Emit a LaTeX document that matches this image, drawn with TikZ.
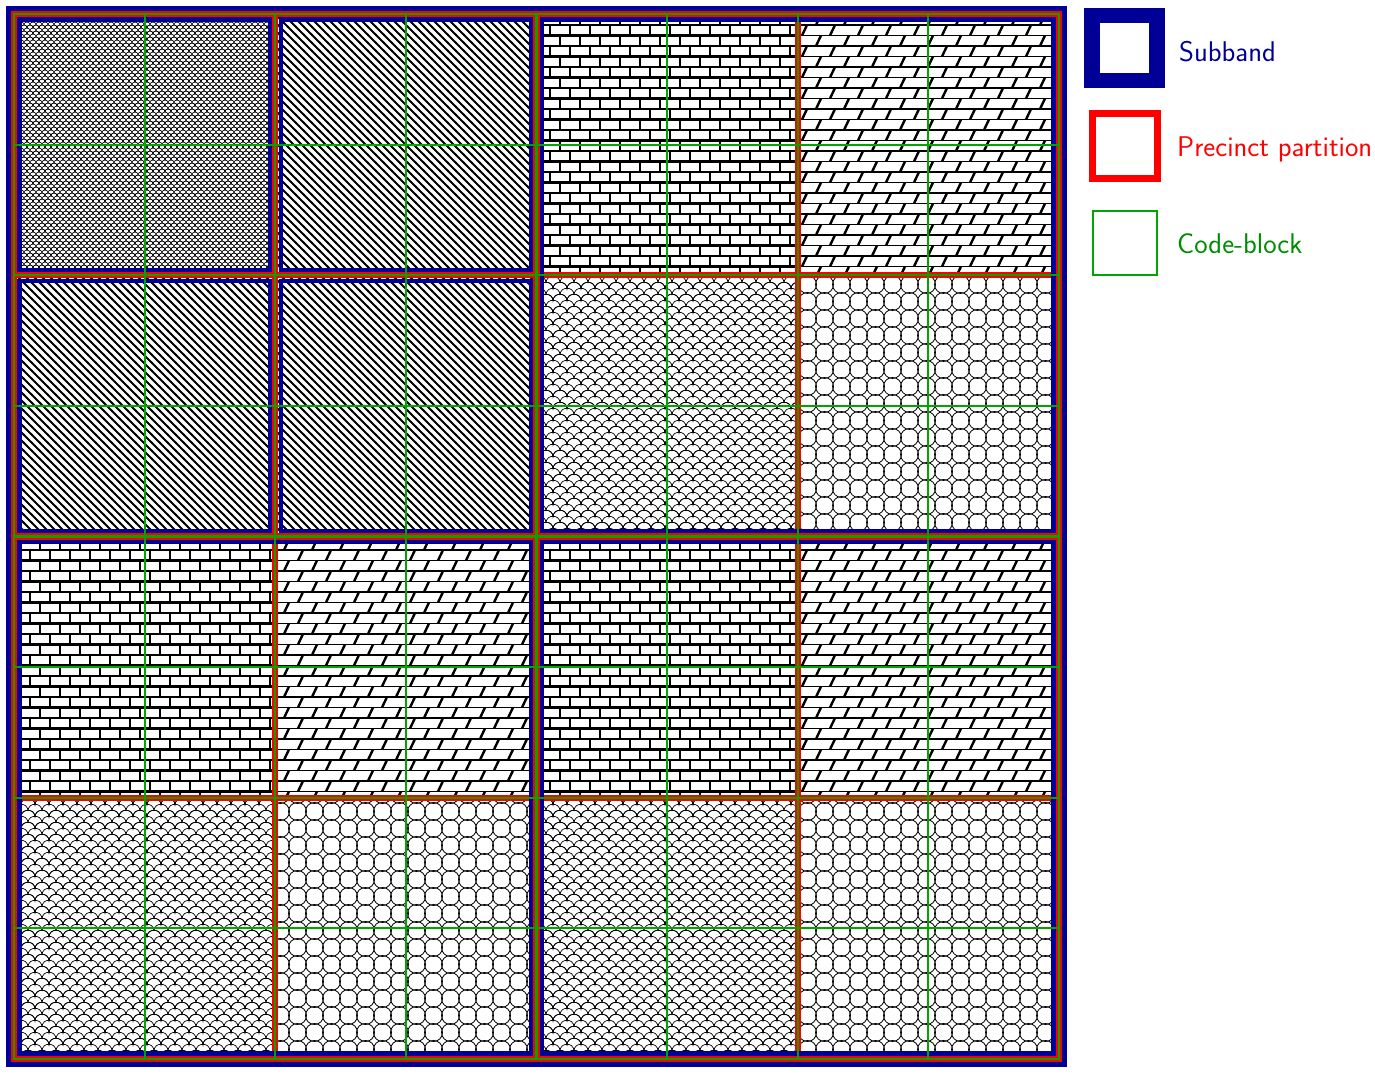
\documentclass[tikz,border=0pt]{standalone}
\usetikzlibrary{patterns}

\definecolor{subbandblue}{RGB}{0,0,150}
\definecolor{precinctred}{RGB}{255,0,0}
\definecolor{blockgreen}{RGB}{0,165,0}

% fill patterns of the precincts
\pgfdeclarepatternformonly{llmesh}{\pgfpoint{-4pt}{-1pt}}{\pgfpoint{10pt}{7pt}}{\pgfpoint{6pt}{6pt}}{
  \pgfsetlinewidth{0.6pt}
  \pgfpathmoveto{\pgfpoint{0pt}{0pt}}
  \pgfpathcurveto{\pgfpoint{0pt}{4pt}}{\pgfpoint{6pt}{4pt}}{\pgfpoint{6pt}{0pt}}
  \pgfpathmoveto{\pgfpoint{-3pt}{3pt}}
  \pgfpathcurveto{\pgfpoint{-3pt}{7pt}}{\pgfpoint{3pt}{7pt}}{\pgfpoint{3pt}{3pt}}
  \pgfpathcurveto{\pgfpoint{3pt}{7pt}}{\pgfpoint{9pt}{7pt}}{\pgfpoint{9pt}{3pt}}
  \pgfusepath{stroke}}
\pgfdeclarepatternformonly{nwhatch}{\pgfpoint{-1pt}{-1pt}}{\pgfpoint{9pt}{9pt}}{\pgfpoint{8pt}{8pt}}{
  \pgfsetlinewidth{2pt}
  \pgfpathmoveto{\pgfpoint{-1pt}{9pt}}\pgfpathlineto{\pgfpoint{9pt}{-1pt}}
  \pgfusepath{stroke}}
\pgfdeclarepatternformonly{brickwall}{\pgfpoint{-2pt}{-2pt}}{\pgfpoint{22pt}{23pt}}{\pgfpoint{20pt}{21pt}}{
  \pgfsetlinewidth{2.6pt}
  \pgfpathmoveto{\pgfpoint{-2pt}{0pt}}\pgfpathlineto{\pgfpoint{22pt}{0pt}}
  \pgfpathmoveto{\pgfpoint{-2pt}{10.5pt}}\pgfpathlineto{\pgfpoint{22pt}{10.5pt}}
  \pgfpathmoveto{\pgfpoint{-2pt}{21pt}}\pgfpathlineto{\pgfpoint{22pt}{21pt}}
  \pgfpathmoveto{\pgfpoint{0pt}{0pt}}\pgfpathlineto{\pgfpoint{0pt}{10.5pt}}
  \pgfpathmoveto{\pgfpoint{20pt}{0pt}}\pgfpathlineto{\pgfpoint{20pt}{10.5pt}}
  \pgfpathmoveto{\pgfpoint{10pt}{10.5pt}}\pgfpathlineto{\pgfpoint{10pt}{21pt}}
  \pgfusepath{stroke}}
\pgfdeclarepatternformonly{slantbricks}{\pgfpoint{-2pt}{-2pt}}{\pgfpoint{30pt}{23pt}}{\pgfpoint{28pt}{21pt}}{
  \pgfsetlinewidth{1.9pt}
  \pgfpathmoveto{\pgfpoint{-2pt}{0pt}}\pgfpathlineto{\pgfpoint{30pt}{0pt}}
  \pgfpathmoveto{\pgfpoint{-2pt}{10.5pt}}\pgfpathlineto{\pgfpoint{30pt}{10.5pt}}
  \pgfpathmoveto{\pgfpoint{-2pt}{21pt}}\pgfpathlineto{\pgfpoint{30pt}{21pt}}
  \pgfusepath{stroke}
  \pgfsetlinewidth{2.4pt}
  \pgfpathmoveto{\pgfpoint{4pt}{0pt}}\pgfpathlineto{\pgfpoint{9pt}{10.5pt}}
  \pgfpathmoveto{\pgfpoint{18pt}{10.5pt}}\pgfpathlineto{\pgfpoint{23pt}{21pt}}
  \pgfusepath{stroke}}
\pgfdeclarepatternformonly{fishscale}{\pgfpoint{-8pt}{-1pt}}{\pgfpoint{22pt}{15pt}}{\pgfpoint{14pt}{12pt}}{
  \pgfsetlinewidth{0.7pt}
  \pgfpathmoveto{\pgfpoint{0pt}{0pt}}
  \pgfpathcurveto{\pgfpoint{0pt}{9pt}}{\pgfpoint{14pt}{9pt}}{\pgfpoint{14pt}{0pt}}
  \pgfpathmoveto{\pgfpoint{-7pt}{6pt}}
  \pgfpathcurveto{\pgfpoint{-7pt}{15pt}}{\pgfpoint{7pt}{15pt}}{\pgfpoint{7pt}{6pt}}
  \pgfpathcurveto{\pgfpoint{7pt}{15pt}}{\pgfpoint{21pt}{15pt}}{\pgfpoint{21pt}{6pt}}
  \pgfusepath{stroke}}
\pgfdeclarepatternformonly{circlegrid}{\pgfpoint{-1pt}{-1pt}}{\pgfpoint{18pt}{18pt}}{\pgfpoint{17pt}{17pt}}{
  \pgfsetlinewidth{0.8pt}
  \pgfpathcircle{\pgfpoint{8.5pt}{8.5pt}}{9pt}
  \pgfusepath{stroke}}

\begin{document}
\begin{tikzpicture}[x=1pt,y=-1pt,
  precinct/.style={draw=precinctred,line width=2pt},
  subband/.style={draw=subbandblue,line width=4.5pt},
  codeblock/.style={draw=blockgreen,line width=2.2pt,line cap=rect},
  legendbox/.style={minimum size=65pt,inner sep=0pt},
  legendtext/.style={anchor=base west,inner sep=0pt,font=\sffamily\fontsize{28.5}{34}\selectfont}]
\useasboundingbox (0,0) rectangle (1375,1075);
\def\org{14}
\def\cw{261.25}

% precincts: pattern and red outline
\foreach \r/\c/\pat in {0/0/llmesh,0/1/nwhatch,0/2/brickwall,0/3/slantbricks,
                        1/0/nwhatch,1/1/nwhatch,1/2/fishscale,1/3/circlegrid,
                        2/0/brickwall,2/1/slantbricks,2/2/brickwall,2/3/slantbricks,
                        3/0/fishscale,3/1/circlegrid,3/2/fishscale,3/3/circlegrid}{
  \fill[pattern=\pat] (\org+\c*\cw+2.2,\org+\r*\cw+2.2) rectangle (\org+\c*\cw+\cw-2.2,\org+\r*\cw+\cw-2.2);
  \draw[precinct] (\org+\c*\cw+2.2,\org+\r*\cw+2.2) rectangle (\org+\c*\cw+\cw-2.2,\org+\r*\cw+\cw-2.2);
}

% subbands
\foreach \ca/\ra/\cb/\rb in {0/0/1/1,1/0/2/1,0/1/1/2,1/1/2/2,2/0/4/2,0/2/2/4,2/2/4/4}
  \draw[subband] (\org+\ca*\cw+5.5,\org+\ra*\cw+5.5) rectangle (\org+\cb*\cw-5.5,\org+\rb*\cw-5.5);

% code-block grid
\foreach \k in {0,...,8}{
  \draw[codeblock] (\org+\k*\cw/2,\org) -- (\org+\k*\cw/2,\org+4*\cw);
  \draw[codeblock] (\org,\org+\k*\cw/2) -- (\org+4*\cw,\org+\k*\cw/2);
}

% outer frame
\draw[precinct] (\org-2.2,\org-2.2) rectangle (\org+4*\cw+2.2,\org+4*\cw+2.2);
\draw[subband] (\org-5.5,\org-5.5) rectangle (\org+4*\cw+5.5,\org+4*\cw+5.5);

% legend
\node[legendbox,draw=subbandblue,line width=15.5pt] (subbandkey) at (1124.7,47.8) {};
\node[legendbox,draw=precinctred,line width=6.7pt] (precinctkey) at (1125,146) {};
\node[legendbox,draw=blockgreen,line width=2pt,minimum size=64pt] (blockkey) at (1124.7,243.3) {};
\node[legendtext,text=subbandblue] (subbandlabel) at (1179,61.7) {Subband};
\node[legendtext,text=precinctred] (precinctlabel) at (1177,156.7) {Precinct partition};
\node[legendtext,text=blockgreen!85!black] (blocklabel) at (1177,253.3) {Code-block};
\end{tikzpicture}
\end{document}
